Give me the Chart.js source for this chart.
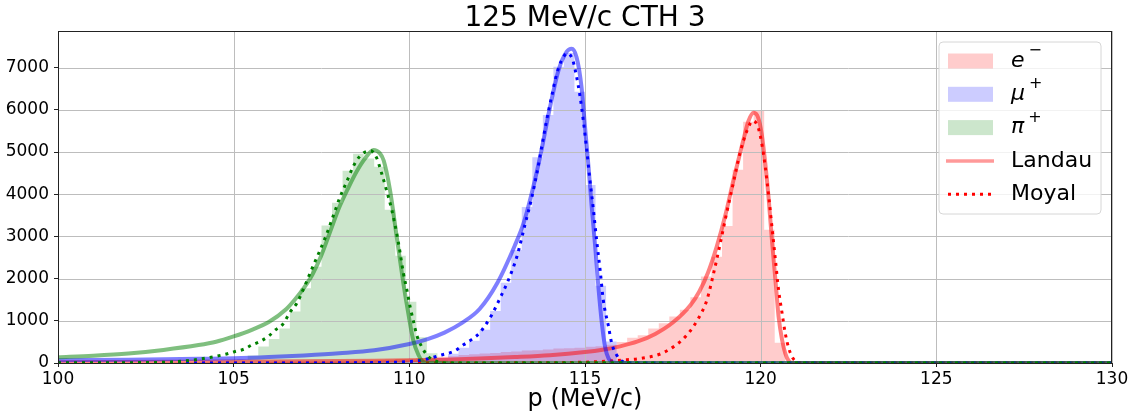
<!DOCTYPE html>
<html>
<head>
<meta charset="utf-8">
<script src="https://cdn.jsdelivr.net/npm/chart.js@4.4.1/dist/chart.umd.min.js"></script>
<style>
  html, body { margin: 0; padding: 0; background: #fff; }
</style>
</head>
<body>
<canvas id="cth-chart" width="1134" height="414"></canvas>
<script>
// histogram binning (MeV/c)
const binOrigin = 100;
const binWidth = 0.3;

// e- counts, first bin index 20
const eFirst = 20;
const eCounts = [28, 35, 33, 40, 44, 41, 52, 55, 58, 66, 70, 77, 92, 96, 112, 128, 150, 162, 188, 205,
  228, 240, 262, 270, 295, 300, 318, 341, 349, 362, 385, 398, 432,
  500, 600, 660, 820, 940, 1100, 1260, 1560, 2050, 2520, 3250, 4580, 5720, 5980, 3160, 480, 30];

// mu+ counts, first bin index 20
const muFirst = 20;
const muCounts = [10, 12, 13, 16, 18, 20, 24, 25, 30, 33, 38, 42, 47, 52,
  60, 85, 120, 220, 360, 530, 790, 1230, 1900, 2680, 3700, 4880, 5880, 7020, 7350, 6430, 4220, 1830, 510, 60];

// pi+ counts, first bin index 10
const piFirst = 10;
const piCounts = [10, 15, 20, 28, 38, 50, 65, 85,
  180, 390, 570, 820, 1220, 1770, 2280, 3260, 3800, 4560, 4960, 4850, 4650, 3630, 2545, 1454, 609, 230, 60, 15];

// Landau fits
const landauEx = [100, 105, 109, 111, 112, 113, 114, 115, 115.5, 116, 116.5, 117, 117.5, 118, 118.25, 118.5, 118.75, 119, 119.25, 119.5, 119.65, 119.8, 119.93, 120.03, 120.13, 120.23, 120.32, 120.42, 120.51, 120.61, 120.7, 120.8, 120.9, 130];
const landauEy = [20, 35, 55, 80, 105, 140, 185, 260, 315, 395, 510, 690, 960, 1370, 1690, 2140, 2760, 3520, 4420, 5260, 5730, 5930, 5810, 5430, 4740, 3870, 2920, 1970, 1100, 545, 230, 50, 0, 0];

const landauMuX = [100, 102, 104, 105, 106, 107, 108, 109, 110, 110.5, 111, 111.5, 112, 112.5, 113, 113.25, 113.5, 113.75, 114, 114.25, 114.48, 114.62, 114.76, 114.9, 115, 115.1, 115.19, 115.29, 115.38, 115.48, 115.57, 115.67, 115.8, 116, 130];
const landauMuY = [65, 80, 100, 112, 140, 180, 230, 300, 450, 560, 720, 950, 1280, 1890, 2780, 3310, 4080, 5000, 6050, 6950, 7380, 7450, 7250, 6550, 5600, 4650, 3710, 2760, 1810, 940, 390, 110, 15, 0, 0];

const landauPiX = [100, 101, 102, 103, 104, 104.5, 105, 105.5, 106, 106.5, 106.75, 107, 107.25, 107.5, 107.75, 108, 108.25, 108.5, 108.75, 108.98, 109.15, 109.27, 109.45, 109.64, 109.83, 109.97, 110.11, 110.26, 110.4, 110.55, 130];
const landauPiY = [135, 172, 225, 310, 425, 505, 630, 780, 970, 1280, 1510, 1780, 2110, 2560, 3120, 3680, 4130, 4540, 4860, 5050, 4980, 4800, 4100, 2995, 1890, 1180, 545, 190, 25, 0, 0];

// Moyal fits
const moyalEx = [100, 113, 115, 116.09, 116.61, 117.14, 117.52, 117.9, 118.23, 118.47, 118.66, 118.85, 119.03, 119.22, 119.41, 119.6, 119.78, 119.93, 120.03, 120.13, 120.23, 120.32, 120.42, 120.51, 120.61, 120.7, 120.8, 120.92, 121.05, 121.3, 130];
const moyalEy = [0, 3, 20, 71, 111, 213, 387, 664, 1059, 1494, 2126, 2838, 3549, 4261, 4972, 5485, 5740, 5580, 5208, 4654, 3943, 3232, 2442, 1731, 1178, 704, 348, 111, 20, 0, 0];

const moyalMuX = [100, 108, 109, 110, 110.4, 110.87, 111.3, 111.54, 111.78, 112.01, 112.15, 112.34, 112.58, 112.82, 113.06, 113.29, 113.48, 113.63, 113.77, 113.91, 114.05, 114.2, 114.34, 114.5, 114.65, 114.76, 114.86, 114.95, 115.05, 115.14, 115.24, 115.33, 115.43, 115.52, 115.67, 115.76, 115.9, 116.09, 116.4, 130];
const moyalMuY = [0, 3, 10, 35, 75, 180, 290, 430, 560, 720, 880, 1130, 1534, 1968, 2520, 3272, 3905, 4498, 5129, 5762, 6314, 6869, 7184, 7343, 7184, 6788, 6314, 5762, 5050, 4339, 3627, 2916, 2205, 1494, 861, 467, 190, 31, 0, 0];

const moyalPiX = [100, 102, 103, 103.5, 104, 104.5, 104.8, 105.02, 105.3, 105.5, 105.75, 106, 106.2, 106.4, 106.6, 106.8, 107, 107.22, 107.43, 107.63, 107.84, 108.03, 108.22, 108.41, 108.57, 108.74, 108.9, 109.07, 109.21, 109.35, 109.5, 109.64, 109.74, 109.83, 109.93, 110.03, 110.12, 110.21, 110.35, 110.5, 110.68, 110.9, 111.2, 130];
const moyalPiY = [3, 8, 18, 40, 87, 160, 213, 268, 330, 420, 510, 640, 790, 920, 1200, 1420, 1780, 2220, 2620, 3020, 3500, 3940, 4300, 4670, 4880, 5000, 5030, 4860, 4500, 4100, 3630, 3075, 2600, 2130, 1730, 1300, 980, 665, 390, 190, 70, 15, 0, 0];

const xTicks = [100, 105, 110, 115, 120, 125, 130];
const yTicks = [0, 1000, 2000, 3000, 4000, 5000, 6000, 7000];
const yMax = 7870;

const FONT = '"DejaVu Sans", Verdana, sans-serif';
Chart.defaults.font.family = FONT;
Chart.defaults.color = '#000';

function histPoints(first, counts) {
  const pts = counts.map((c, i) => ({ x: binOrigin + (first + i) * binWidth, y: c }));
  pts.push({ x: binOrigin + (first + counts.length) * binWidth, y: 0 });
  return pts;
}

function curvePoints(xs, ys) {
  return xs.map((x, i) => ({ x: x, y: ys[i] }));
}

function histSet(first, counts, fillColor, order) {
  return {
    data: histPoints(first, counts),
    stepped: 'before',
    fill: 'origin',
    backgroundColor: fillColor,
    borderWidth: 0,
    pointRadius: 0,
    clip: 0,
    order: order
  };
}

function landauSet(xs, ys, color, order) {
  return {
    data: curvePoints(xs, ys),
    borderColor: color,
    borderWidth: 4,
    cubicInterpolationMode: 'monotone',
    pointRadius: 0,
    fill: false,
    clip: 0,
    order: order
  };
}

function moyalSet(xs, ys, color, order) {
  return {
    data: curvePoints(xs, ys),
    borderColor: color,
    borderWidth: 3,
    borderDash: [3, 5],
    borderCapStyle: 'butt',
    cubicInterpolationMode: 'monotone',
    pointRadius: 0,
    fill: false,
    clip: 0,
    order: order
  };
}

// draw order: histograms first, then each particle's fits
const datasets = [
  histSet(eFirst, eCounts, 'rgba(255,0,0,0.2)', 8),
  histSet(muFirst, muCounts, 'rgba(0,0,255,0.2)', 7),
  histSet(piFirst, piCounts, 'rgba(0,128,0,0.2)', 6),
  landauSet(landauEx, landauEy, 'rgba(255,0,0,0.5)', 5),
  moyalSet(moyalEx, moyalEy, '#ff0000', 4),
  landauSet(landauMuX, landauMuY, 'rgba(0,0,255,0.5)', 3),
  moyalSet(moyalMuX, moyalMuY, '#0000ff', 2),
  landauSet(landauPiX, landauPiY, 'rgba(0,128,0,0.5)', 1),
  moyalSet(moyalPiX, moyalPiY, '#008000', 0)
];
const lastHistIndex = 2;

function drawGrid(chart) {
  const { ctx, chartArea: a, scales } = chart;
  ctx.save();
  ctx.strokeStyle = '#bdbdbd';
  ctx.lineWidth = 1;
  ctx.beginPath();
  scales.x.ticks.forEach(t => {
    const px = Math.round(scales.x.getPixelForValue(t.value)) + 0.5;
    ctx.moveTo(px, a.top);
    ctx.lineTo(px, a.bottom);
  });
  scales.y.ticks.forEach(t => {
    const py = Math.round(scales.y.getPixelForValue(t.value)) + 0.5;
    ctx.moveTo(a.left, py);
    ctx.lineTo(a.right, py);
  });
  ctx.stroke();
  ctx.restore();
}

function drawLegend(ctx) {
  const x0 = 939, y0 = 42, w = 162, h = 172, r = 4;
  ctx.save();
  ctx.beginPath();
  ctx.moveTo(x0 + r, y0);
  ctx.arcTo(x0 + w, y0, x0 + w, y0 + h, r);
  ctx.arcTo(x0 + w, y0 + h, x0, y0 + h, r);
  ctx.arcTo(x0, y0 + h, x0, y0, r);
  ctx.arcTo(x0, y0, x0 + w, y0, r);
  ctx.closePath();
  ctx.fillStyle = 'rgba(255,255,255,0.8)';
  ctx.fill();
  ctx.strokeStyle = '#d6d6d6';
  ctx.lineWidth = 1;
  ctx.stroke();

  const rows = [61, 94.3, 127.6, 160.9, 194.2];
  const handleX = 948, handleW = 45, textX = 1011;
  const patches = ['rgba(255,0,0,0.2)', 'rgba(0,0,255,0.2)', 'rgba(0,128,0,0.2)'];
  const symbols = ['e', '\u03bc', '\u03c0'];
  const charges = ['\u2212', '+', '+'];

  ctx.textBaseline = 'middle';
  ctx.textAlign = 'left';
  patches.forEach((c, i) => {
    ctx.fillStyle = c;
    ctx.fillRect(handleX, rows[i] - 7.5, handleW, 15);
    ctx.fillStyle = '#000';
    ctx.font = 'italic 22px ' + FONT;
    ctx.fillText(symbols[i], textX, rows[i]);
    const sw = ctx.measureText(symbols[i]).width;
    ctx.font = '16px ' + FONT;
    ctx.fillText(charges[i], textX + sw + 4, rows[i] - 10);
  });

  // Landau handle
  ctx.strokeStyle = 'rgba(255,0,0,0.4)';
  ctx.lineWidth = 3.5;
  ctx.beginPath();
  ctx.moveTo(handleX - 2, rows[3]);
  ctx.lineTo(handleX + handleW + 1, rows[3]);
  ctx.stroke();
  // Moyal handle
  ctx.strokeStyle = '#ff0000';
  ctx.lineWidth = 3;
  ctx.setLineDash([3, 5]);
  ctx.beginPath();
  ctx.moveTo(handleX, rows[4]);
  ctx.lineTo(handleX + handleW, rows[4]);
  ctx.stroke();
  ctx.setLineDash([]);

  ctx.fillStyle = '#000';
  ctx.font = '22px ' + FONT;
  ctx.fillText('Landau', textX, rows[3]);
  ctx.fillText('Moyal', textX, rows[4]);
  ctx.restore();
}

const decorPlugin = {
  id: 'cthDecor',
  afterDatasetDraw(chart, args) {
    if (args.index === lastHistIndex) drawGrid(chart);
  },
  afterDraw(chart) {
    const { ctx, chartArea: a } = chart;
    ctx.save();
    ctx.strokeStyle = '#222';
    ctx.lineWidth = 1;
    ctx.strokeRect(a.left + 0.5, a.top + 0.5, a.right - a.left - 1, a.bottom - a.top);
    ctx.fillStyle = '#000';
    ctx.font = '28px ' + FONT;
    ctx.textAlign = 'center';
    ctx.textBaseline = 'alphabetic';
    ctx.fillText('125 MeV/c CTH 3', (a.left + a.right) / 2, 26);
    ctx.restore();
    drawLegend(ctx);
  }
};

new Chart(document.getElementById('cth-chart'), {
  type: 'line',
  data: { datasets: datasets },
  options: {
    responsive: false,
    devicePixelRatio: 1,
    animation: false,
    layout: { padding: { top: 31, right: 22, left: 0, bottom: 0 } },
    plugins: { legend: { display: false }, tooltip: { enabled: false } },
    scales: {
      x: {
        type: 'linear',
        min: 100,
        max: 130,
        afterFit: s => { s.height = 51; },
        afterBuildTicks: s => { s.ticks = xTicks.map(v => ({ value: v })); },
        ticks: { font: { size: 17 }, padding: 2, maxRotation: 0, callback: v => String(v) },
        grid: { drawOnChartArea: false, tickLength: 4, tickColor: '#222', tickWidth: 1 },
        border: { display: false },
        title: { display: true, text: 'p (MeV/c)', font: { size: 24 }, padding: { top: 0, bottom: 0 } }
      },
      y: {
        min: 0,
        max: yMax,
        afterFit: s => { s.width = 58; },
        afterBuildTicks: s => { s.ticks = yTicks.map(v => ({ value: v })); },
        ticks: { font: { size: 17 }, padding: 5, callback: v => String(v) },
        grid: { drawOnChartArea: false, tickLength: 4, tickColor: '#222', tickWidth: 1 },
        border: { display: false }
      }
    }
  },
  plugins: [decorPlugin]
});
</script>
</body>
</html>
